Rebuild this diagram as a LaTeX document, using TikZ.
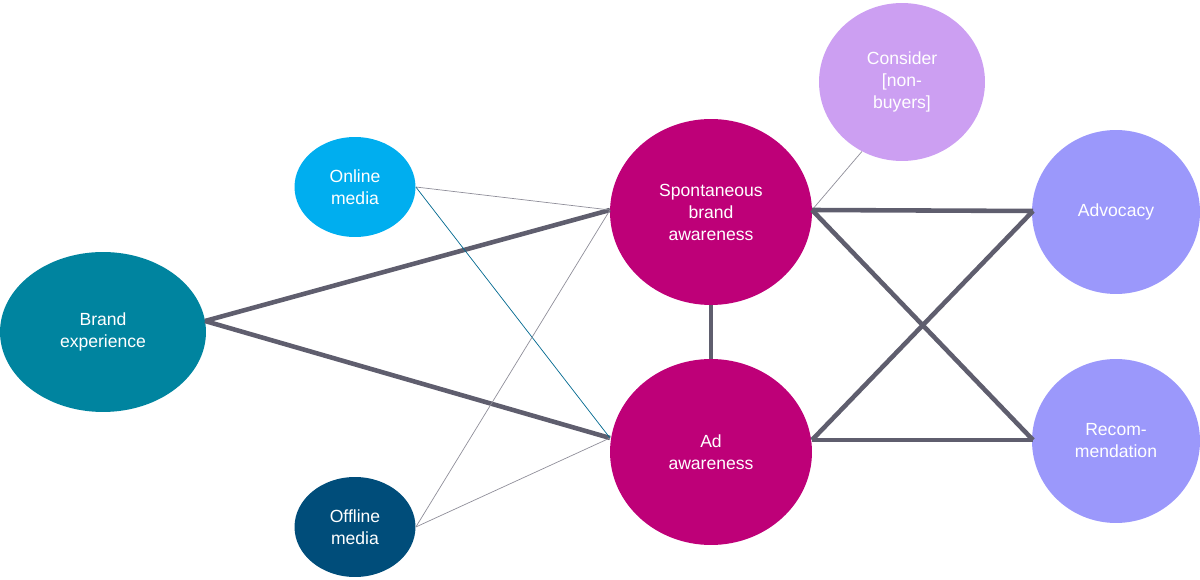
\documentclass[tikz,border=0pt]{standalone}
\usepackage{fontspec}
\setmainfont{Liberation Sans}
\usetikzlibrary{shapes.geometric}
\definecolor{teal}{HTML}{00849F}
\definecolor{online}{HTML}{00AEEF}
\definecolor{offline}{HTML}{004D7A}
\definecolor{magenta}{HTML}{BE0078}
\definecolor{consider}{HTML}{CC9FF2}
\definecolor{lilac}{HTML}{9B98FB}
\definecolor{link}{HTML}{5F5E6E}
\tikzset{bubble/.style={ellipse,draw=none,text=white,align=center,font=\fontsize{10}{12.5}\selectfont,inner sep=0pt},
strong/.style={draw=link,line width=2.6pt},
weak/.style={draw=link!70,line width=0.4pt},
weak blue/.style={draw=online!60!black,line width=0.4pt}}
\begin{document}
\begin{tikzpicture}[x=0.02cm,y=-0.02cm]
\useasboundingbox (0,0) rectangle (1200,580);

%% bubbles
\node [bubble,fill=teal,minimum width=4.12cm,minimum height=3.2cm] (brand) at (103,332) {Brand\\experience};
\node [bubble,fill=online,minimum width=2.42cm,minimum height=2cm] (online) at (355,187) {Online\\media};
\node [bubble,fill=offline,minimum width=2.42cm,minimum height=2cm] (offline) at (355,527) {Offline\\media};
\node [bubble,fill=magenta,minimum width=4.04cm,minimum height=3.72cm] (spont) at (711,212) {Spontaneous\\brand\\awareness};
\node [bubble,fill=magenta,minimum width=4.04cm,minimum height=3.72cm] (ad) at (711,452) {Ad\\awareness};
\node [bubble,fill=consider,minimum width=3.32cm,minimum height=3.16cm] (consider) at (902,82) {Consider\\{[}non-\\buyers{]}};
\node [bubble,fill=lilac,minimum width=3.36cm,minimum height=3.28cm] (advocacy) at (1116,212) {Advocacy};
\node [bubble,fill=lilac,minimum width=3.36cm,minimum height=3.28cm] (recom) at (1116,441) {Recom-\\mendation};

%% connectors
\coordinate (spont in) at (610,210);
\coordinate (ad in) at (610,438);
\coordinate (spont out) at (812,210);
\coordinate (ad out) at (812,440);
\coordinate (adv in) at (1033,211);
\coordinate (rec in) at (1033,440);
\draw [strong] (205,321) -- (spont in);
\draw [strong] (205,321) -- (ad in);
\draw [weak] (online.east) -- (spont in);
\draw [weak blue] (online.east) -- (ad in);
\draw [weak] (offline.east) -- (spont in);
\draw [weak] (offline.east) -- (ad in);
\draw [weak] (consider.240) -- (spont out);
\draw [strong] (spont.south) -- (ad.north);
\draw [strong] (spont out) -- (adv in);
\draw [strong] (spont out) -- (rec in);
\draw [strong] (ad out) -- (adv in);
\draw [strong] (ad out) -- (rec in);
\end{tikzpicture}
\end{document}
